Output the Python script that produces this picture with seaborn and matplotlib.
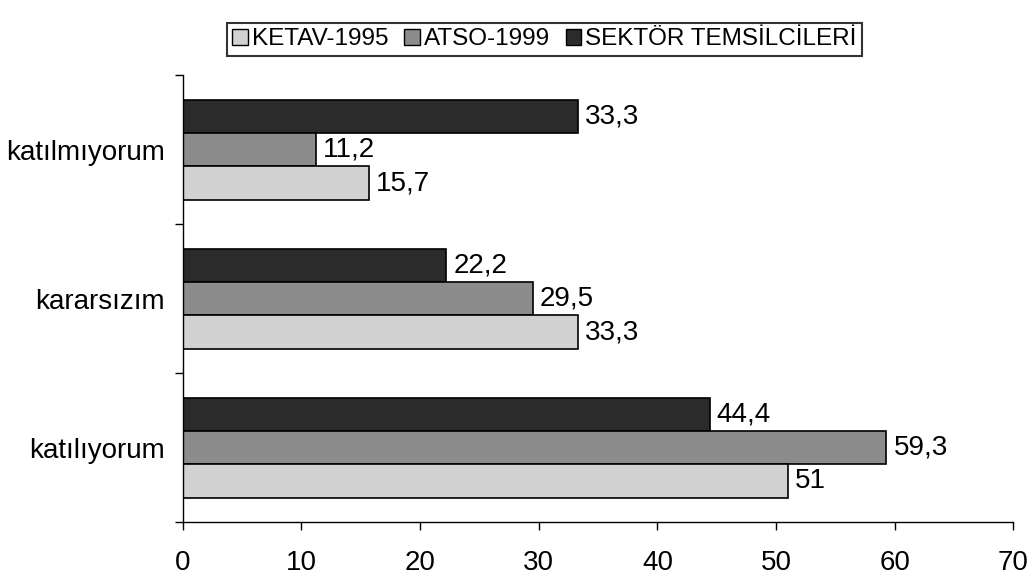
import pandas as pd
import matplotlib.pyplot as plt
import seaborn as sns
import numpy as np
from matplotlib.patches import Patch

# Veriler
categories = ['katılmıyorum', 'kararsızım', 'katılıyorum']
series = ['KETAV-1995', 'ATSO-1999', 'SEKTÖR TEMSİLCİLERİ']
ketav = [15.7, 33.3, 51]
atso = [11.2, 29.5, 59.3]
sektor = [33.3, 22.2, 44.4]

colors = {'KETAV-1995': '#d2d2d2', 'ATSO-1999': '#8c8c8c', 'SEKTÖR TEMSİLCİLERİ': '#2b2b2b'}

df = pd.DataFrame({
    'kategori': categories * 3,
    'kaynak': [series[0]] * 3 + [series[1]] * 3 + [series[2]] * 3,
    'deger': ketav + atso + sektor,
})

sns.set_style('white')
plt.rcParams['font.family'] = ['Liberation Sans', 'DejaVu Sans']
plt.rcParams['text.color'] = 'black'
plt.rcParams['xtick.color'] = 'black'
plt.rcParams['ytick.color'] = 'black'

fig = plt.figure(figsize=(10.33, 5.79), dpi=100)
ax = fig.add_axes([0.177, 0.098, 0.804, 0.772])

# en alttaki çubuk KETAV olacak şekilde ters sıra
hue_order = series[::-1]
sns.barplot(data=df, y='kategori', x='deger', hue='kaynak', order=categories,
            hue_order=hue_order, palette=colors, orient='h', width=0.67,
            edgecolor='black', linewidth=1.2, ax=ax, legend=False)

for cont in ax.containers:
    labels = [f'{v:g}'.replace('.', ',') for v in cont.datavalues]
    ax.bar_label(cont, labels=labels, padding=5, fontsize=20, color='black',
                 bbox=dict(facecolor='white', edgecolor='none', pad=0.5))

ax.set_xlim(0, 70)
ax.set_xticks(np.arange(0, 71, 10))
ax.set_ylim(2.5, -0.5)
ax.set_yticks([-0.5, 0.5, 1.5, 2.5], minor=True)
ax.tick_params(axis='y', which='major', length=0, labelsize=20, pad=13)
ax.tick_params(axis='y', which='minor', length=6, direction='out', left=True, width=1)
ax.tick_params(axis='x', length=6, direction='out', bottom=True, labelsize=20, pad=14, width=1)
ax.set_xlabel('')
ax.set_ylabel('')
for s in ['top', 'right']:
    ax.spines[s].set_visible(False)
for s in ['left', 'bottom']:
    ax.spines[s].set_color('black')
    ax.spines[s].set_linewidth(1)

handles = [Patch(facecolor=colors[s], edgecolor='black', linewidth=1) for s in series]
leg = fig.legend(handles, series, loc='center', bbox_to_anchor=(0.527, 0.932), ncol=3,
                 fontsize=17.5, frameon=True, fancybox=False, edgecolor='black',
                 handlelength=0.65, handleheight=0.65, handletextpad=0.15,
                 columnspacing=0.65, borderpad=0.22, borderaxespad=0)
leg.get_frame().set_linewidth(1.5)

plt.savefig('out.png', dpi=100)
